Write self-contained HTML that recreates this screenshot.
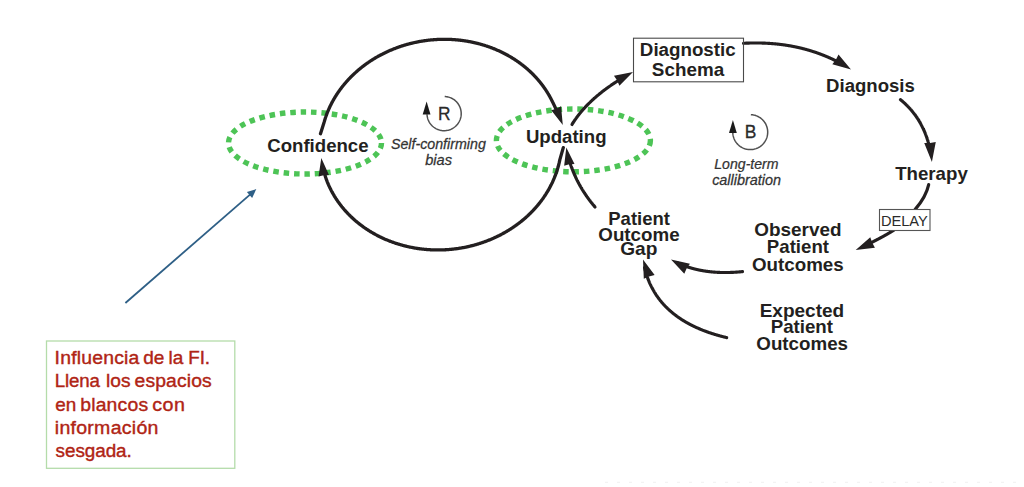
<!DOCTYPE html>
<html><head><meta charset="utf-8"><style>
html,body{margin:0;padding:0;background:#fff;width:1024px;height:487px;overflow:hidden}
svg{display:block;font-family:"Liberation Sans",sans-serif}
</style></head><body>
<svg width="1024" height="487" viewBox="0 0 1024 487">
<ellipse cx="305" cy="143" rx="76.5" ry="31" fill="none" stroke="#4dc456" stroke-width="5.4" stroke-dasharray="5.5 4.9"/>
<ellipse cx="573.4" cy="140.4" rx="77" ry="31.4" fill="none" stroke="#4dc456" stroke-width="5.4" stroke-dasharray="5.5 4.9"/>
<path d="M320.50,133.70 L324.19,121.91 L324.33,121.42 L324.48,120.93 L324.62,120.44 L324.77,119.96 L324.92,119.47 L325.08,118.98 L325.23,118.49 L325.39,118.01 L325.55,117.52 L325.72,117.04 L325.88,116.55 L326.05,116.07 L326.23,115.59 L326.40,115.10 L326.58,114.62 L326.76,114.14 L326.94,113.66 L327.12,113.18 L327.31,112.70 L327.50,112.22 L327.69,111.75 L327.89,111.27 L328.09,110.80 L328.29,110.32 L328.49,109.85 L328.70,109.37 L328.90,108.90 L329.12,108.43 L329.33,107.96 L329.54,107.49 L329.76,107.02 L329.98,106.55 L330.21,106.08 L330.43,105.61 L330.66,105.15 L330.89,104.68 L331.13,104.22 L331.36,103.76 L331.60,103.29 L331.84,102.83 L332.08,102.37 L332.33,101.91 L332.58,101.45 L332.83,101.00 L333.08,100.54 L333.34,100.08 L333.60,99.63 L333.86,99.18 L334.12,98.72 L334.38,98.27 L334.65,97.82 L334.92,97.37 L335.20,96.92 L335.47,96.48 L335.75,96.03 L336.03,95.59 L336.31,95.14 L336.59,94.70 L336.88,94.26 L337.17,93.82 L337.46,93.38 L337.76,92.94 L338.05,92.50 L338.35,92.07 L338.65,91.63 L338.96,91.20 L339.26,90.77 L339.57,90.34 L339.88,89.91 L340.19,89.48 L340.51,89.05 L340.83,88.63 L341.15,88.20 L341.47,87.78 L341.79,87.36 L342.12,86.94 L342.45,86.52 L342.78,86.10 L343.11,85.68 L343.45,85.27 L343.78,84.85 L344.12,84.44 L344.47,84.03 L344.81,83.62 L345.16,83.21 L345.50,82.80 L345.86,82.40 L346.21,81.99 L346.56,81.59 L346.92,81.19 L347.28,80.79 L347.64,80.39 L348.00,79.99 L348.37,79.60 L348.74,79.20 L349.11,78.81 L349.48,78.42 L349.85,78.03 L350.23,77.64 L350.61,77.25 L350.99,76.87 L351.37,76.48 L351.76,76.10 L352.14,75.72 L352.53,75.34 L352.92,74.96 L353.31,74.59 L353.71,74.21 L354.10,73.84 L354.50,73.47 L354.90,73.10 L355.30,72.73 L355.71,72.37 L356.11,72.00 L356.52,71.64 L356.93,71.28 L357.34,70.92 L357.76,70.56 L358.17,70.21 L358.59,69.85 L359.01,69.50 L359.43,69.15 L359.86,68.80 L360.28,68.45 L360.71,68.10 L361.14,67.76 L361.57,67.42 L362.00,67.08 L362.43,66.74 L362.87,66.40 L363.31,66.07 L363.75,65.73 L364.19,65.40 L364.63,65.07 L365.08,64.74 L365.52,64.42 L365.97,64.09 L366.42,63.77 L366.87,63.45 L367.33,63.13 L367.78,62.81 L368.24,62.50 L368.69,62.18 L369.15,61.87 L369.62,61.56 L370.08,61.25 L370.54,60.95 L371.01,60.64 L371.48,60.34 L371.95,60.04 L372.42,59.74 L372.89,59.45 L373.37,59.15 L373.84,58.86 L374.32,58.57 L374.80,58.28 L375.28,58.00 L375.76,57.71 L376.24,57.43 L376.73,57.15 L377.21,56.87 L377.70,56.59 L378.19,56.32 L378.68,56.04 L379.17,55.77 L379.67,55.51 L380.16,55.24 L380.66,54.97 L381.16,54.71 L381.65,54.45 L382.15,54.19 L382.66,53.94 L383.16,53.68 L383.66,53.43 L384.17,53.18 L384.68,52.93 L385.18,52.69 L385.69,52.44 L386.20,52.20 L386.72,51.96 L387.23,51.72 L387.74,51.49 L388.26,51.25 L388.78,51.02 L389.29,50.79 L389.81,50.57 L390.33,50.34 L390.85,50.12 L391.38,49.90 L391.90,49.68 L392.43,49.46 L392.95,49.25 L393.48,49.04 L394.01,48.83 L394.54,48.62 L395.07,48.41 L395.60,48.21 L396.13,48.01 L396.66,47.81 L397.20,47.61 L397.73,47.42 L398.27,47.23 L398.81,47.04 L399.34,46.85 L399.88,46.66 L400.42,46.48 L400.97,46.30 L401.51,46.12 L402.05,45.94 L402.59,45.77 L403.14,45.60 L403.68,45.43 L404.23,45.26 L404.78,45.09 L405.33,44.93 L405.87,44.77 L406.42,44.61 L406.97,44.46 L407.53,44.30 L408.08,44.15 L408.63,44.00 L409.18,43.85 L409.74,43.71 L410.29,43.57 L410.85,43.43 L411.41,43.29 L411.96,43.15 L412.52,43.02 L413.08,42.89 L413.64,42.76 L414.20,42.63 L414.76,42.51 L415.32,42.39 L415.88,42.27 L416.44,42.15 L417.00,42.03 L417.57,41.92 L418.13,41.81 L418.69,41.70 L419.26,41.60 L419.82,41.49 L420.39,41.39 L420.96,41.30 L421.52,41.20 L422.09,41.11 L422.66,41.01 L423.22,40.92 L423.79,40.84 L424.36,40.75 L424.93,40.67 L425.50,40.59 L426.07,40.51 L426.64,40.44 L427.21,40.37 L427.78,40.30 L428.35,40.23 L428.92,40.16 L429.49,40.10 L430.07,40.04 L430.64,39.98 L431.21,39.93 L431.78,39.87 L432.35,39.82 L432.93,39.77 L433.50,39.73 L434.07,39.68 L434.65,39.64 L435.22,39.60 L435.79,39.56 L436.37,39.53 L436.94,39.50 L437.52,39.47 L438.09,39.44 L438.66,39.42 L439.24,39.39 L439.81,39.37 L440.39,39.35 L440.96,39.34 L441.54,39.33 L442.11,39.32 L442.69,39.31 L443.26,39.30 L443.83,39.30 L444.41,39.30 L444.98,39.30 L445.56,39.30 L446.13,39.31 L446.70,39.32 L447.28,39.33 L447.85,39.34 L448.42,39.36 L449.00,39.38 L449.57,39.40 L450.14,39.42 L450.72,39.44 L451.29,39.47 L451.86,39.50 L452.43,39.53 L453.00,39.57 L453.58,39.61 L454.15,39.65 L454.72,39.69 L455.29,39.73 L455.86,39.78 L456.43,39.83 L457.00,39.88 L457.57,39.93 L458.14,39.99 L458.70,40.05 L459.27,40.11 L459.84,40.17 L460.41,40.24 L460.97,40.31 L461.54,40.38 L462.11,40.45 L462.67,40.53 L463.24,40.60 L463.80,40.68 L464.36,40.77 L464.93,40.85 L465.49,40.94 L466.05,41.03 L466.61,41.12 L467.17,41.21 L467.73,41.31 L468.29,41.41 L468.85,41.51 L469.41,41.61 L469.97,41.72 L470.53,41.83 L471.08,41.94 L471.64,42.05 L472.20,42.17 L472.75,42.28 L473.30,42.40 L473.86,42.53 L474.41,42.65 L474.96,42.78 L475.51,42.91 L476.06,43.04 L476.61,43.17 L477.16,43.31 L477.71,43.45 L478.25,43.59 L478.80,43.73 L479.34,43.88 L479.89,44.02 L480.43,44.17 L480.97,44.33 L481.52,44.48 L482.06,44.64 L482.60,44.80 L483.14,44.96 L483.67,45.12 L484.21,45.29 L484.75,45.45 L485.28,45.62 L485.81,45.80 L486.35,45.97 L486.88,46.15 L487.41,46.33 L487.94,46.51 L488.47,46.69 L489.00,46.88 L489.52,47.07 L490.05,47.26 L490.57,47.45 L491.09,47.64 L491.62,47.84 L492.14,48.04 L492.66,48.24 L493.18,48.45 L493.69,48.65 L494.21,48.86 L494.72,49.07 L495.24,49.28 L495.75,49.50 L496.26,49.71 L496.77,49.93 L497.28,50.15 L497.79,50.38 L498.29,50.60 L498.80,50.83 L499.30,51.06 L499.80,51.29 L500.31,51.52 L500.81,51.76 L501.30,52.00 L501.80,52.24 L502.30,52.48 L502.79,52.72 L503.28,52.97 L503.77,53.22 L504.26,53.47 L504.75,53.72 L505.24,53.98 L505.72,54.23 L506.21,54.49 L506.69,54.75 L507.17,55.01 L507.65,55.28 L508.13,55.55 L508.61,55.82 L509.08,56.09 L509.55,56.36 L510.03,56.63 L510.50,56.91 L510.96,57.19 L511.43,57.47 L511.90,57.75 L512.36,58.04 L512.82,58.33 L513.28,58.61 L513.74,58.91 L514.20,59.20 L514.66,59.49 L515.11,59.79 L515.56,60.09 L516.01,60.39 L516.46,60.69 L516.91,61.00 L517.36,61.30 L517.80,61.61 L518.24,61.92 L518.68,62.23 L519.12,62.54 L519.56,62.86 L519.99,63.18 L520.43,63.50 L520.86,63.82 L521.29,64.14 L521.71,64.47 L522.14,64.79 L522.56,65.12 L522.99,65.45 L523.41,65.78 L523.83,66.12 L524.24,66.45 L524.66,66.79 L525.07,67.13 L525.48,67.47 L525.89,67.81 L526.30,68.16 L526.70,68.50 L527.11,68.85 L527.51,69.20 L527.91,69.55 L528.30,69.91 L528.70,70.26 L529.09,70.62 L529.48,70.97 L529.87,71.33 L530.26,71.70 L530.64,72.06 L531.03,72.42 L531.41,72.79 L531.79,73.16 L532.17,73.53 L532.54,73.90 L532.91,74.27 L533.28,74.65 L533.65,75.02 L534.02,75.40 L534.38,75.78 L534.75,76.16 L535.11,76.54 L535.47,76.93 L535.82,77.31 L536.18,77.70 L536.53,78.09 L536.88,78.48 L537.22,78.87 L537.57,79.26 L537.91,79.66 L538.25,80.05 L538.59,80.45 L538.93,80.85 L539.26,81.25 L539.59,81.65 L539.92,82.05 L540.25,82.46 L540.58,82.86 L540.90,83.27 L541.22,83.68 L541.54,84.09 L541.85,84.50 L542.17,84.91 L542.48,85.33 L542.79,85.74 L543.10,86.16 L543.40,86.58 L543.70,87.00 L544.00,87.42 L544.30,87.84 L544.60,88.27 L544.89,88.69 L545.18,89.12 L545.47,89.54 L545.75,89.97 L546.04,90.40 L546.32,90.83 L546.60,91.27 L546.87,91.70 L547.15,92.13 L547.42,92.57 L547.69,93.01 L547.95,93.45 L548.22,93.88 L548.48,94.33 L548.74,94.77 L549.00,95.21 L549.25,95.65 L549.50,96.10 L549.75,96.55 L550.00,96.99 L550.24,97.44 L550.49,97.89 L550.72,98.34 L550.96,98.79 L551.20,99.25 L551.20,99.25 L551.39,99.63 L551.59,100.01 L551.79,100.40 L551.99,100.79 L552.19,101.18 L552.39,101.57 L552.58,101.97 L552.78,102.36 L552.98,102.76 L553.18,103.16 L553.37,103.56 L553.57,103.97 L553.77,104.37 L553.97,104.78 L554.16,105.19 L554.36,105.60 L554.56,106.01 L554.76,106.43 L554.95,106.84 L555.15,107.26 L555.35,107.68 L555.55,108.10 L555.74,108.53 L555.94,108.95 L556.14,109.38 L556.33,109.81 L556.53,110.24 L556.73,110.67 L556.92,111.11 L557.12,111.55 L557.32,111.98 L557.51,112.42 L557.71,112.87 L557.91,113.31 L558.10,113.76 L558.30,114.20 L558.50,114.65 L558.69,115.10 L558.89,115.56 L559.08,116.01 L559.28,116.47" fill="none" stroke="#231f20" stroke-width="3.3" stroke-linecap="round" stroke-linejoin="round"/><polygon points="562.80,125.00 551.27,110.21 556.35,108.78 561.03,106.33" fill="#231f20"/>
<path d="M563.30,147.60 L559.86,159.59 L559.76,160.11 L559.65,160.63 L559.54,161.14 L559.43,161.66 L559.32,162.18 L559.20,162.70 L559.08,163.22 L558.95,163.73 L558.83,164.25 L558.70,164.77 L558.57,165.28 L558.43,165.80 L558.29,166.31 L558.15,166.82 L558.01,167.34 L557.86,167.85 L557.71,168.36 L557.56,168.87 L557.40,169.38 L557.25,169.89 L557.08,170.40 L556.92,170.91 L556.75,171.42 L556.58,171.93 L556.41,172.44 L556.23,172.94 L556.06,173.45 L555.87,173.95 L555.69,174.46 L555.50,174.96 L555.31,175.46 L555.12,175.97 L554.92,176.47 L554.73,176.97 L554.52,177.47 L554.32,177.97 L554.11,178.46 L553.90,178.96 L553.69,179.46 L553.48,179.95 L553.26,180.45 L553.04,180.94 L552.81,181.43 L552.59,181.92 L552.36,182.42 L552.12,182.91 L551.89,183.39 L551.65,183.88 L551.41,184.37 L551.17,184.86 L550.92,185.34 L550.67,185.82 L550.42,186.31 L550.17,186.79 L549.91,187.27 L549.65,187.75 L549.39,188.23 L549.13,188.71 L548.86,189.18 L548.59,189.66 L548.32,190.13 L548.04,190.61 L547.76,191.08 L547.48,191.55 L547.20,192.02 L546.91,192.49 L546.62,192.95 L546.33,193.42 L546.04,193.89 L545.74,194.35 L545.44,194.81 L545.14,195.27 L544.84,195.73 L544.53,196.19 L544.22,196.65 L543.91,197.11 L543.59,197.56 L543.28,198.01 L542.96,198.47 L542.63,198.92 L542.31,199.37 L541.98,199.81 L541.65,200.26 L541.32,200.71 L540.98,201.15 L540.65,201.59 L540.31,202.03 L539.96,202.47 L539.62,202.91 L539.27,203.35 L538.92,203.78 L538.57,204.22 L538.22,204.65 L537.86,205.08 L537.50,205.51 L537.14,205.94 L536.77,206.37 L536.41,206.79 L536.04,207.21 L535.67,207.64 L535.29,208.06 L534.92,208.47 L534.54,208.89 L534.16,209.31 L533.78,209.72 L533.39,210.13 L533.00,210.54 L532.62,210.95 L532.22,211.36 L531.83,211.77 L531.43,212.17 L531.03,212.57 L530.63,212.97 L530.23,213.37 L529.82,213.77 L529.42,214.16 L529.01,214.56 L528.59,214.95 L528.18,215.34 L527.76,215.73 L527.35,216.12 L526.92,216.50 L526.50,216.88 L526.08,217.26 L525.65,217.64 L525.22,218.02 L524.79,218.40 L524.36,218.77 L523.92,219.14 L523.48,219.51 L523.04,219.88 L522.60,220.25 L522.16,220.61 L521.71,220.98 L521.26,221.34 L520.82,221.70 L520.36,222.05 L519.91,222.41 L519.45,222.76 L519.00,223.11 L518.54,223.46 L518.08,223.81 L517.61,224.16 L517.15,224.50 L516.68,224.84 L516.21,225.18 L515.74,225.52 L515.27,225.85 L514.79,226.19 L514.32,226.52 L513.84,226.85 L513.36,227.18 L512.88,227.50 L512.39,227.82 L511.91,228.15 L511.42,228.46 L510.93,228.78 L510.44,229.10 L509.95,229.41 L509.46,229.72 L508.96,230.03 L508.46,230.33 L507.96,230.64 L507.46,230.94 L506.96,231.24 L506.46,231.54 L505.95,231.83 L505.44,232.13 L504.94,232.42 L504.42,232.71 L503.91,233.00 L503.40,233.28 L502.88,233.56 L502.37,233.84 L501.85,234.12 L501.33,234.40 L500.81,234.67 L500.29,234.94 L499.76,235.21 L499.24,235.48 L498.71,235.74 L498.18,236.01 L497.65,236.27 L497.12,236.52 L496.59,236.78 L496.05,237.03 L495.52,237.28 L494.98,237.53 L494.44,237.78 L493.90,238.02 L493.36,238.27 L492.82,238.50 L492.28,238.74 L491.73,238.98 L491.19,239.21 L490.64,239.44 L490.09,239.67 L489.54,239.89 L488.99,240.12 L488.44,240.34 L487.88,240.55 L487.33,240.77 L486.77,240.98 L486.22,241.19 L485.66,241.40 L485.10,241.61 L484.54,241.81 L483.98,242.01 L483.42,242.21 L482.86,242.41 L482.29,242.60 L481.73,242.80 L481.16,242.99 L480.59,243.17 L480.02,243.36 L479.46,243.54 L478.88,243.72 L478.31,243.89 L477.74,244.07 L477.17,244.24 L476.60,244.41 L476.02,244.58 L475.44,244.74 L474.87,244.90 L474.29,245.06 L473.71,245.22 L473.13,245.38 L472.55,245.53 L471.97,245.68 L471.39,245.82 L470.81,245.97 L470.23,246.11 L469.64,246.25 L469.06,246.39 L468.48,246.52 L467.89,246.65 L467.30,246.78 L466.72,246.91 L466.13,247.03 L465.54,247.16 L464.95,247.27 L464.36,247.39 L463.77,247.51 L463.18,247.62 L462.59,247.73 L462.00,247.83 L461.41,247.94 L460.82,248.04 L460.22,248.14 L459.63,248.23 L459.04,248.33 L458.44,248.42 L457.85,248.51 L457.25,248.59 L456.66,248.67 L456.06,248.75 L455.46,248.83 L454.87,248.91 L454.27,248.98 L453.67,249.05 L453.07,249.12 L452.48,249.18 L451.88,249.25 L451.28,249.31 L450.68,249.36 L450.08,249.42 L449.48,249.47 L448.88,249.52 L448.28,249.57 L447.68,249.61 L447.08,249.65 L446.48,249.69 L445.88,249.73 L445.28,249.76 L444.68,249.79 L444.08,249.82 L443.48,249.85 L442.88,249.87 L442.28,249.89 L441.68,249.91 L441.07,249.92 L440.47,249.94 L439.87,249.95 L439.27,249.95 L438.67,249.96 L438.07,249.96 L437.47,249.96 L436.87,249.96 L436.27,249.95 L435.67,249.95 L435.07,249.93 L434.47,249.92 L433.87,249.91 L433.27,249.89 L432.67,249.87 L432.07,249.84 L431.47,249.82 L430.87,249.79 L430.27,249.75 L429.67,249.72 L429.08,249.68 L428.48,249.64 L427.88,249.60 L427.28,249.56 L426.69,249.51 L426.09,249.46 L425.50,249.41 L424.90,249.35 L424.30,249.29 L423.71,249.23 L423.11,249.17 L422.52,249.10 L421.93,249.04 L421.33,248.97 L420.74,248.89 L420.15,248.82 L419.56,248.74 L418.97,248.66 L418.38,248.57 L417.79,248.49 L417.20,248.40 L416.61,248.31 L416.02,248.21 L415.43,248.11 L414.85,248.02 L414.26,247.91 L413.68,247.81 L413.09,247.70 L412.51,247.59 L411.92,247.48 L411.34,247.37 L410.76,247.25 L410.18,247.13 L409.60,247.01 L409.02,246.88 L408.44,246.75 L407.86,246.62 L407.28,246.49 L406.71,246.36 L406.13,246.22 L405.56,246.08 L404.98,245.94 L404.41,245.79 L403.84,245.64 L403.27,245.49 L402.70,245.34 L402.13,245.19 L401.56,245.03 L400.99,244.87 L400.43,244.71 L399.86,244.54 L399.30,244.37 L398.73,244.20 L398.17,244.03 L397.61,243.86 L397.05,243.68 L396.49,243.50 L395.94,243.32 L395.38,243.13 L394.82,242.94 L394.27,242.75 L393.72,242.56 L393.16,242.37 L392.61,242.17 L392.06,241.97 L391.52,241.77 L390.97,241.56 L390.42,241.36 L389.88,241.15 L389.33,240.94 L388.79,240.72 L388.25,240.51 L387.71,240.29 L387.17,240.07 L386.64,239.84 L386.10,239.62 L385.57,239.39 L385.04,239.16 L384.50,238.93 L383.98,238.69 L383.45,238.45 L382.92,238.21 L382.39,237.97 L381.87,237.73 L381.35,237.48 L380.83,237.23 L380.31,236.98 L379.79,236.72 L379.27,236.47 L378.76,236.21 L378.24,235.95 L377.73,235.69 L377.22,235.42 L376.71,235.15 L376.21,234.88 L375.70,234.61 L375.20,234.34 L374.69,234.06 L374.19,233.78 L373.69,233.50 L373.20,233.22 L372.70,232.93 L372.21,232.65 L371.72,232.36 L371.23,232.06 L370.74,231.77 L370.25,231.47 L369.77,231.18 L369.28,230.88 L368.80,230.57 L368.32,230.27 L367.84,229.96 L367.37,229.65 L366.89,229.34 L366.42,229.03 L365.95,228.71 L365.48,228.39 L365.01,228.08 L364.55,227.75 L364.08,227.43 L363.62,227.10 L363.16,226.78 L362.71,226.45 L362.25,226.11 L361.80,225.78 L361.35,225.44 L360.90,225.11 L360.45,224.77 L360.00,224.42 L359.56,224.08 L359.12,223.74 L358.68,223.39 L358.24,223.04 L357.81,222.69 L357.37,222.33 L356.94,221.98 L356.51,221.62 L356.09,221.26 L355.66,220.90 L355.24,220.53 L354.82,220.17 L354.40,219.80 L353.99,219.43 L353.57,219.06 L353.16,218.69 L352.75,218.32 L352.34,217.94 L351.94,217.56 L351.53,217.18 L351.13,216.80 L350.73,216.42 L350.34,216.03 L349.94,215.64 L349.55,215.25 L349.16,214.86 L348.78,214.47 L348.39,214.08 L348.01,213.68 L347.63,213.28 L347.25,212.88 L346.87,212.48 L346.50,212.08 L346.13,211.68 L345.76,211.27 L345.39,210.86 L345.03,210.45 L344.67,210.04 L344.31,209.63 L343.95,209.22 L343.60,208.80 L343.25,208.38 L342.90,207.96 L342.55,207.54 L342.21,207.12 L341.86,206.70 L341.52,206.27 L341.19,205.85 L340.85,205.42 L340.52,204.99 L340.19,204.56 L339.86,204.12 L339.54,203.69 L339.22,203.25 L338.90,202.82 L338.58,202.38 L338.27,201.94 L337.95,201.50 L337.65,201.05 L337.34,200.61 L337.03,200.16 L336.73,199.72 L336.43,199.27 L336.14,198.82 L335.84,198.37 L335.55,197.91 L335.26,197.46 L334.98,197.01 L334.70,196.55 L334.41,196.09 L334.14,195.63 L333.86,195.17 L333.59,194.71 L333.32,194.25 L333.05,193.78 L332.79,193.32 L332.53,192.85 L332.27,192.38 L332.01,191.92 L331.76,191.45 L331.50,190.97 L331.26,190.50 L331.01,190.03 L330.77,189.55 L330.53,189.08 L330.29,188.60 L330.06,188.12 L329.82,187.64 L329.59,187.16 L329.37,186.68 L329.15,186.20 L328.92,185.72 L328.71,185.23 L328.71,185.23 L328.53,184.84 L328.36,184.44 L328.18,184.04 L328.01,183.64 L327.84,183.24 L327.67,182.83 L327.51,182.42 L327.34,182.01 L327.18,181.59 L327.02,181.18 L326.86,180.76 L326.71,180.34 L326.55,179.91 L326.40,179.49 L326.24,179.06 L326.09,178.63 L325.95,178.20 L325.80,177.76 L325.65,177.32 L325.51,176.89 L325.37,176.44 L325.23,176.00 L325.09,175.55 L324.96,175.10 L324.82,174.65 L324.69,174.20 L324.56,173.74 L324.43,173.28 L324.30,172.82 L324.18,172.36 L324.05,171.89 L323.93,171.42 L323.81,170.95 L323.69,170.48 L323.58,170.01 L323.46,169.53 L323.35,169.05 L323.24,168.57 L323.13,168.08 L323.02,167.60 L322.91,167.11" fill="none" stroke="#231f20" stroke-width="3.3" stroke-linecap="round" stroke-linejoin="round"/><polygon points="321.30,157.90 328.97,175.01 323.70,175.19 318.57,176.45" fill="#231f20"/>
<path d="M572.00,124.50 L572.09,124.35 L572.18,124.20 L572.27,124.06 L572.36,123.91 L572.46,123.76 L572.55,123.61 L572.64,123.47 L572.73,123.32 L572.82,123.17 L572.92,123.03 L573.01,122.88 L573.11,122.73 L573.20,122.58 L573.29,122.44 L573.39,122.29 L573.48,122.14 L573.58,122.00 L573.67,121.85 L573.77,121.71 L573.87,121.56 L573.96,121.41 L574.06,121.27 L574.16,121.12 L574.26,120.97 L574.35,120.83 L574.45,120.68 L574.55,120.54 L574.65,120.39 L574.75,120.25 L574.85,120.10 L574.95,119.96 L575.05,119.81 L575.15,119.66 L575.25,119.52 L575.35,119.37 L575.45,119.23 L575.55,119.08 L575.66,118.94 L575.76,118.80 L575.86,118.65 L575.96,118.51 L576.07,118.36 L576.17,118.22 L576.27,118.07 L576.38,117.93 L576.48,117.78 L576.59,117.64 L576.69,117.50 L576.80,117.35 L576.90,117.21 L577.01,117.06 L577.12,116.92 L577.22,116.78 L577.33,116.63 L577.44,116.49 L577.55,116.35 L577.65,116.20 L577.76,116.06 L577.87,115.92 L577.98,115.77 L578.09,115.63 L578.20,115.49 L578.31,115.35 L578.42,115.20 L578.53,115.06 L578.64,114.92 L578.75,114.78 L578.86,114.63 L578.97,114.49 L579.09,114.35 L579.20,114.21 L579.31,114.07 L579.42,113.92 L579.54,113.78 L579.65,113.64 L579.76,113.50 L579.88,113.36 L579.99,113.21 L580.11,113.07 L580.22,112.93 L580.34,112.79 L580.45,112.65 L580.57,112.51 L580.69,112.37 L580.80,112.23 L580.92,112.09 L581.04,111.94 L581.16,111.80 L581.27,111.66 L581.39,111.52 L581.51,111.38 L581.63,111.24 L581.75,111.10 L581.87,110.96 L581.99,110.82 L582.11,110.68 L582.23,110.54 L582.35,110.40 L582.47,110.26 L582.59,110.12 L582.71,109.98 L582.84,109.84 L582.96,109.70 L583.08,109.56 L583.20,109.42 L583.33,109.28 L583.45,109.15 L583.58,109.01 L583.70,108.87 L583.82,108.73 L583.95,108.59 L584.08,108.45 L584.20,108.31 L584.33,108.17 L584.45,108.03 L584.58,107.90 L584.71,107.76 L584.83,107.62 L584.96,107.48 L585.09,107.34 L585.22,107.21 L585.34,107.07 L585.47,106.93 L585.60,106.79 L585.73,106.65 L585.86,106.52 L585.99,106.38 L586.12,106.24 L586.25,106.10 L586.38,105.97 L586.51,105.83 L586.65,105.69 L586.78,105.56 L586.91,105.42 L587.04,105.28 L587.18,105.14 L587.31,105.01 L587.44,104.87 L587.58,104.73 L587.71,104.60 L587.84,104.46 L587.98,104.33 L588.11,104.19 L588.25,104.05 L588.38,103.92 L588.52,103.78 L588.66,103.65 L588.79,103.51 L588.93,103.37 L589.07,103.24 L589.20,103.10 L589.34,102.97 L589.48,102.83 L589.62,102.70 L589.76,102.56 L589.90,102.43 L590.04,102.29 L590.18,102.16 L590.32,102.02 L590.46,101.89 L590.60,101.75 L590.74,101.62 L590.88,101.48 L591.02,101.35 L591.16,101.21 L591.30,101.08 L591.45,100.94 L591.59,100.81 L591.73,100.68 L591.88,100.54 L592.02,100.41 L592.16,100.27 L592.31,100.14 L592.45,100.01 L592.60,99.87 L592.74,99.74 L592.89,99.61 L593.04,99.47 L593.18,99.34 L593.33,99.21 L593.48,99.07 L593.62,98.94 L593.77,98.81 L593.92,98.67 L594.07,98.54 L594.21,98.41 L594.36,98.28 L594.51,98.14 L594.66,98.01 L594.81,97.88 L594.96,97.75 L595.11,97.61 L595.26,97.48 L595.41,97.35 L595.57,97.22 L595.72,97.09 L595.87,96.95 L596.02,96.82 L596.17,96.69 L596.33,96.56 L596.48,96.43 L596.63,96.30 L596.79,96.16 L596.94,96.03 L597.10,95.90 L597.25,95.77 L597.41,95.64 L597.56,95.51 L597.72,95.38 L597.87,95.25 L598.03,95.12 L598.19,94.99 L598.34,94.86 L598.50,94.73 L598.66,94.60 L598.82,94.47 L598.97,94.33 L599.13,94.20 L599.29,94.07 L599.45,93.94 L599.61,93.81 L599.77,93.69 L599.93,93.56 L600.09,93.43 L600.25,93.30 L600.41,93.17 L600.57,93.04 L600.73,92.91 L600.90,92.78 L601.06,92.65 L601.22,92.52 L601.38,92.39 L601.55,92.26 L601.71,92.13 L601.88,92.01 L602.04,91.88 L602.20,91.75 L602.37,91.62 L602.53,91.49 L602.70,91.36 L602.87,91.23 L603.03,91.11 L603.20,90.98 L603.36,90.85 L603.53,90.72 L603.70,90.59 L603.87,90.47 L604.03,90.34 L604.20,90.21 L604.37,90.08 L604.54,89.96 L604.71,89.83 L604.88,89.70 L605.05,89.58 L605.22,89.45 L605.39,89.32 L605.56,89.19 L605.73,89.07 L605.90,88.94 L606.07,88.81 L606.25,88.69 L606.42,88.56 L606.59,88.43 L606.76,88.31 L606.94,88.18 L607.11,88.06 L607.29,87.93 L607.46,87.80 L607.63,87.68 L607.81,87.55 L607.98,87.43 L608.16,87.30 L608.34,87.17 L608.51,87.05 L608.69,86.92 L608.86,86.80 L609.04,86.67 L609.22,86.55 L609.40,86.42 L609.57,86.30 L609.75,86.17 L609.93,86.05 L610.11,85.92 L610.29,85.80 L610.47,85.67 L610.65,85.55 L610.83,85.42 L611.01,85.30 L611.19,85.18 L611.37,85.05 L611.55,84.93 L611.74,84.80 L611.92,84.68 L612.10,84.56 L612.28,84.43 L612.47,84.31 L612.65,84.18 L612.83,84.06 L613.02,83.94 L613.20,83.81 L613.39,83.69 L613.57,83.57 L613.76,83.44 L613.94,83.32 L614.13,83.20 L614.31,83.07 L614.50,82.95 L614.69,82.83 L614.87,82.71 L615.06,82.58 L615.25,82.46 L615.44,82.34 L615.63,82.22 L615.81,82.09 L616.00,81.97 L616.19,81.85 L616.38,81.73 L616.57,81.61 L616.76,81.48 L616.95,81.36 L617.14,81.24 L617.33,81.12 L617.53,81.00 L617.72,80.88 L617.91,80.75 L618.10,80.63 L618.30,80.51 L618.49,80.39 L618.68,80.27 L618.88,80.15 L619.07,80.03 L619.26,79.91 L619.46,79.79 L619.65,79.67 L619.85,79.55 L620.04,79.43 L620.24,79.30 L620.44,79.18 L620.63,79.06 L620.83,78.94 L621.03,78.82 L621.22,78.70 L621.42,78.58 L621.62,78.46 L621.82,78.34 L622.02,78.22 L622.22,78.11 L622.42,77.99 L622.62,77.87 L622.82,77.75 L623.02,77.63 L623.22,77.51 L623.42,77.39 L623.62,77.27 L623.82,77.15 L624.02,77.03 L624.22,76.91 L624.43,76.80 L624.63,76.68 L624.83,76.56 L625.04,76.44 L625.24,76.32 L625.44,76.20 L625.65,76.09 L625.85,75.97" fill="none" stroke="#231f20" stroke-width="3.15" stroke-linecap="round"/><polygon points="633.00,72.00 619.40,85.80 617.18,80.46 613.97,75.66" fill="#231f20"/>
<path d="M743.50,43.30 L743.81,43.28 L744.12,43.27 L744.42,43.25 L744.73,43.24 L745.04,43.22 L745.35,43.21 L745.65,43.19 L745.96,43.18 L746.27,43.17 L746.57,43.16 L746.88,43.14 L747.19,43.13 L747.49,43.12 L747.80,43.11 L748.10,43.10 L748.41,43.09 L748.71,43.08 L749.02,43.07 L749.32,43.06 L749.63,43.05 L749.93,43.04 L750.23,43.04 L750.54,43.03 L750.84,43.02 L751.15,43.01 L751.45,43.01 L751.75,43.00 L752.06,43.00 L752.36,42.99 L752.66,42.99 L752.96,42.98 L753.26,42.98 L753.57,42.98 L753.87,42.98 L754.17,42.97 L754.47,42.97 L754.77,42.97 L755.07,42.97 L755.37,42.97 L755.68,42.97 L755.98,42.97 L756.28,42.97 L756.58,42.97 L756.88,42.97 L757.18,42.97 L757.47,42.97 L757.77,42.98 L758.07,42.98 L758.37,42.98 L758.67,42.99 L758.97,42.99 L759.27,43.00 L759.56,43.00 L759.86,43.01 L760.16,43.01 L760.46,43.02 L760.76,43.02 L761.05,43.03 L761.35,43.04 L761.65,43.05 L761.94,43.06 L762.24,43.06 L762.53,43.07 L762.83,43.08 L763.13,43.09 L763.42,43.10 L763.72,43.11 L764.01,43.12 L764.31,43.14 L764.60,43.15 L764.90,43.16 L765.19,43.17 L765.48,43.19 L765.78,43.20 L766.07,43.21 L766.37,43.23 L766.66,43.24 L766.95,43.26 L767.25,43.28 L767.54,43.29 L767.83,43.31 L768.12,43.32 L768.42,43.34 L768.71,43.36 L769.00,43.38 L769.29,43.40 L769.58,43.42 L769.87,43.43 L770.16,43.45 L770.46,43.48 L770.75,43.50 L771.04,43.52 L771.33,43.54 L771.62,43.56 L771.91,43.58 L772.20,43.61 L772.49,43.63 L772.78,43.65 L773.06,43.68 L773.35,43.70 L773.64,43.72 L773.93,43.75 L774.22,43.78 L774.51,43.80 L774.80,43.83 L775.08,43.85 L775.37,43.88 L775.66,43.91 L775.94,43.94 L776.23,43.97 L776.52,43.99 L776.81,44.02 L777.09,44.05 L777.38,44.08 L777.66,44.11 L777.95,44.15 L778.23,44.18 L778.52,44.21 L778.81,44.24 L779.09,44.27 L779.38,44.31 L779.66,44.34 L779.94,44.37 L780.23,44.41 L780.51,44.44 L780.80,44.48 L781.08,44.51 L781.36,44.55 L781.65,44.58 L781.93,44.62 L782.21,44.66 L782.50,44.70 L782.78,44.73 L783.06,44.77 L783.34,44.81 L783.62,44.85 L783.91,44.89 L784.19,44.93 L784.47,44.97 L784.75,45.01 L785.03,45.05 L785.31,45.09 L785.59,45.13 L785.87,45.18 L786.15,45.22 L786.43,45.26 L786.71,45.31 L786.99,45.35 L787.27,45.40 L787.55,45.44 L787.83,45.49 L788.11,45.53 L788.39,45.58 L788.66,45.62 L788.94,45.67 L789.22,45.72 L789.50,45.77 L789.78,45.81 L790.05,45.86 L790.33,45.91 L790.61,45.96 L790.88,46.01 L791.16,46.06 L791.44,46.11 L791.71,46.16 L791.99,46.21 L792.27,46.27 L792.54,46.32 L792.82,46.37 L793.09,46.42 L793.37,46.48 L793.64,46.53 L793.92,46.59 L794.19,46.64 L794.47,46.70 L794.74,46.75 L795.01,46.81 L795.29,46.86 L795.56,46.92 L795.83,46.98 L796.11,47.04 L796.38,47.09 L796.65,47.15 L796.93,47.21 L797.20,47.27 L797.47,47.33 L797.74,47.39 L798.01,47.45 L798.29,47.51 L798.56,47.57 L798.83,47.63 L799.10,47.70 L799.37,47.76 L799.64,47.82 L799.91,47.88 L800.18,47.95 L800.45,48.01 L800.72,48.08 L800.99,48.14 L801.26,48.21 L801.53,48.27 L801.80,48.34 L802.07,48.41 L802.34,48.47 L802.60,48.54 L802.87,48.61 L803.14,48.68 L803.41,48.75 L803.68,48.81 L803.94,48.88 L804.21,48.95 L804.48,49.02 L804.74,49.10 L805.01,49.17 L805.28,49.24 L805.54,49.31 L805.81,49.38 L806.08,49.46 L806.34,49.53 L806.61,49.60 L806.87,49.68 L807.14,49.75 L807.40,49.83 L807.67,49.90 L807.93,49.98 L808.20,50.05 L808.46,50.13 L808.72,50.21 L808.99,50.28 L809.25,50.36 L809.52,50.44 L809.78,50.52 L810.04,50.60 L810.30,50.68 L810.57,50.76 L810.83,50.84 L811.09,50.92 L811.35,51.00 L811.62,51.08 L811.88,51.16 L812.14,51.24 L812.40,51.33 L812.66,51.41 L812.92,51.49 L813.18,51.58 L813.44,51.66 L813.70,51.75 L813.96,51.83 L814.22,51.92 L814.48,52.00 L814.74,52.09 L815.00,52.18 L815.26,52.26 L815.52,52.35 L815.78,52.44 L816.04,52.53 L816.29,52.62 L816.55,52.70 L816.81,52.79 L817.07,52.88 L817.33,52.97 L817.58,53.07 L817.84,53.16 L818.10,53.25 L818.35,53.34 L818.61,53.43 L818.87,53.53 L819.12,53.62 L819.38,53.71 L819.64,53.81 L819.89,53.90 L820.15,54.00 L820.40,54.09 L820.66,54.19 L820.91,54.28 L821.17,54.38 L821.42,54.48 L821.67,54.58 L821.93,54.67 L822.18,54.77 L822.44,54.87 L822.69,54.97 L822.94,55.07 L823.20,55.17 L823.45,55.27 L823.70,55.37 L823.95,55.47 L824.21,55.57 L824.46,55.67 L824.71,55.78 L824.96,55.88 L825.21,55.98 L825.46,56.09 L825.72,56.19 L825.97,56.30 L826.22,56.40 L826.47,56.51 L826.72,56.61 L826.97,56.72 L827.22,56.82 L827.47,56.93 L827.72,57.04 L827.97,57.15 L828.22,57.25 L828.47,57.36 L828.71,57.47 L828.96,57.58 L829.21,57.69 L829.46,57.80 L829.71,57.91 L829.96,58.02 L830.20,58.13 L830.45,58.25 L830.70,58.36 L830.94,58.47 L831.19,58.58 L831.44,58.70 L831.68,58.81 L831.93,58.93 L832.18,59.04 L832.42,59.15 L832.67,59.27 L832.91,59.39 L833.16,59.50 L833.40,59.62 L833.65,59.74 L833.89,59.85 L834.14,59.97 L834.38,60.09 L834.63,60.21 L834.87,60.33 L835.11,60.45 L835.36,60.57 L835.60,60.69 L835.84,60.81 L836.09,60.93 L836.33,61.05 L836.57,61.17 L836.81,61.30 L837.06,61.42 L837.30,61.54 L837.54,61.67 L837.78,61.79 L838.02,61.92 L838.26,62.04 L838.51,62.17 L838.75,62.29 L838.99,62.42 L839.23,62.55 L839.47,62.67 L839.71,62.80 L839.95,62.93 L840.19,63.06 L840.43,63.18 L840.67,63.31 L840.91,63.44 L841.14,63.57 L841.38,63.70 L841.62,63.83 L841.86,63.97 L842.10,64.10 L842.34,64.23 L842.57,64.36 L842.81,64.49 L843.05,64.63 L843.28,64.76 L843.52,64.89 L843.76,65.03 L844.00,65.16" fill="none" stroke="#231f20" stroke-width="3.15" stroke-linecap="round"/><polygon points="851.00,69.40 832.32,64.28 835.88,59.74 838.51,54.59" fill="#231f20"/>
<path d="M900.40,99.60 L900.54,99.71 L900.68,99.83 L900.81,99.94 L900.95,100.05 L901.09,100.16 L901.22,100.28 L901.36,100.39 L901.50,100.51 L901.63,100.62 L901.77,100.73 L901.90,100.85 L902.04,100.96 L902.17,101.08 L902.31,101.19 L902.44,101.31 L902.58,101.42 L902.71,101.54 L902.84,101.66 L902.97,101.77 L903.11,101.89 L903.24,102.01 L903.37,102.12 L903.50,102.24 L903.63,102.36 L903.77,102.48 L903.90,102.59 L904.03,102.71 L904.16,102.83 L904.29,102.95 L904.42,103.07 L904.55,103.19 L904.67,103.31 L904.80,103.42 L904.93,103.54 L905.06,103.66 L905.19,103.78 L905.31,103.90 L905.44,104.03 L905.57,104.15 L905.70,104.27 L905.82,104.39 L905.95,104.51 L906.07,104.63 L906.20,104.75 L906.32,104.88 L906.45,105.00 L906.57,105.12 L906.70,105.24 L906.82,105.37 L906.95,105.49 L907.07,105.61 L907.19,105.74 L907.31,105.86 L907.44,105.98 L907.56,106.11 L907.68,106.23 L907.80,106.36 L907.92,106.48 L908.04,106.61 L908.16,106.73 L908.29,106.86 L908.41,106.98 L908.52,107.11 L908.64,107.24 L908.76,107.36 L908.88,107.49 L909.00,107.62 L909.12,107.74 L909.24,107.87 L909.35,108.00 L909.47,108.13 L909.59,108.25 L909.71,108.38 L909.82,108.51 L909.94,108.64 L910.05,108.77 L910.17,108.90 L910.29,109.03 L910.40,109.16 L910.51,109.29 L910.63,109.42 L910.74,109.55 L910.86,109.68 L910.97,109.81 L911.08,109.94 L911.20,110.07 L911.31,110.20 L911.42,110.33 L911.53,110.46 L911.65,110.60 L911.76,110.73 L911.87,110.86 L911.98,110.99 L912.09,111.13 L912.20,111.26 L912.31,111.39 L912.42,111.53 L912.53,111.66 L912.64,111.79 L912.75,111.93 L912.85,112.06 L912.96,112.20 L913.07,112.33 L913.18,112.47 L913.29,112.60 L913.39,112.74 L913.50,112.87 L913.60,113.01 L913.71,113.14 L913.82,113.28 L913.92,113.42 L914.03,113.55 L914.13,113.69 L914.24,113.83 L914.34,113.97 L914.44,114.10 L914.55,114.24 L914.65,114.38 L914.76,114.52 L914.86,114.66 L914.96,114.80 L915.06,114.93 L915.16,115.07 L915.27,115.21 L915.37,115.35 L915.47,115.49 L915.57,115.63 L915.67,115.77 L915.77,115.91 L915.87,116.05 L915.97,116.20 L916.07,116.34 L916.17,116.48 L916.27,116.62 L916.36,116.76 L916.46,116.90 L916.56,117.05 L916.66,117.19 L916.75,117.33 L916.85,117.47 L916.95,117.62 L917.04,117.76 L917.14,117.90 L917.23,118.05 L917.33,118.19 L917.43,118.34 L917.52,118.48 L917.61,118.63 L917.71,118.77 L917.80,118.92 L917.90,119.06 L917.99,119.21 L918.08,119.35 L918.17,119.50 L918.27,119.64 L918.36,119.79 L918.45,119.94 L918.54,120.08 L918.63,120.23 L918.72,120.38 L918.81,120.53 L918.91,120.67 L919.00,120.82 L919.08,120.97 L919.17,121.12 L919.26,121.27 L919.35,121.42 L919.44,121.57 L919.53,121.71 L919.62,121.86 L919.70,122.01 L919.79,122.16 L919.88,122.31 L919.97,122.46 L920.05,122.62 L920.14,122.77 L920.22,122.92 L920.31,123.07 L920.39,123.22 L920.48,123.37 L920.56,123.52 L920.65,123.68 L920.73,123.83 L920.82,123.98 L920.90,124.13 L920.98,124.29 L921.06,124.44 L921.15,124.59 L921.23,124.75 L921.31,124.90 L921.39,125.06 L921.47,125.21 L921.56,125.36 L921.64,125.52 L921.72,125.67 L921.80,125.83 L921.88,125.99 L921.96,126.14 L922.04,126.30 L922.11,126.45 L922.19,126.61 L922.27,126.77 L922.35,126.92 L922.43,127.08 L922.50,127.24 L922.58,127.39 L922.66,127.55 L922.74,127.71 L922.81,127.87 L922.89,128.03 L922.96,128.19 L923.04,128.34 L923.11,128.50 L923.19,128.66 L923.26,128.82 L923.34,128.98 L923.41,129.14 L923.48,129.30 L923.56,129.46 L923.63,129.62 L923.70,129.78 L923.78,129.94 L923.85,130.11 L923.92,130.27 L923.99,130.43 L924.06,130.59 L924.13,130.75 L924.20,130.91 L924.27,131.08 L924.34,131.24 L924.41,131.40 L924.48,131.57 L924.55,131.73 L924.62,131.89 L924.69,132.06 L924.76,132.22 L924.83,132.38 L924.89,132.55 L924.96,132.71 L925.03,132.88 L925.09,133.04 L925.16,133.21 L925.23,133.38 L925.29,133.54 L925.36,133.71 L925.42,133.87 L925.49,134.04 L925.55,134.21 L925.62,134.37 L925.68,134.54 L925.75,134.71 L925.81,134.88 L925.87,135.04 L925.94,135.21 L926.00,135.38 L926.06,135.55 L926.12,135.72 L926.18,135.89 L926.25,136.05 L926.31,136.22 L926.37,136.39 L926.43,136.56 L926.49,136.73 L926.55,136.90 L926.61,137.07 L926.67,137.24 L926.73,137.42 L926.78,137.59 L926.84,137.76 L926.90,137.93 L926.96,138.10 L927.02,138.27 L927.07,138.45 L927.13,138.62 L927.19,138.79 L927.24,138.96 L927.30,139.14 L927.36,139.31 L927.41,139.48 L927.47,139.66 L927.52,139.83 L927.57,140.00 L927.63,140.18 L927.68,140.35 L927.74,140.53 L927.79,140.70 L927.84,140.88 L927.90,141.05 L927.95,141.23 L928.00,141.41 L928.05,141.58 L928.10,141.76 L928.16,141.94 L928.21,142.11 L928.26,142.29 L928.31,142.47 L928.36,142.64 L928.41,142.82 L928.46,143.00 L928.51,143.18 L928.55,143.36 L928.60,143.53 L928.65,143.71 L928.70,143.89 L928.75,144.07 L928.79,144.25 L928.84,144.43 L928.89,144.61 L928.93,144.79 L928.98,144.97 L929.03,145.15 L929.07,145.33 L929.12,145.51 L929.16,145.69 L929.21,145.88 L929.25,146.06 L929.30,146.24 L929.34,146.42 L929.38,146.60 L929.43,146.79 L929.47,146.97 L929.51,147.15 L929.55,147.33 L929.60,147.52 L929.64,147.70 L929.68,147.89 L929.72,148.07 L929.76,148.25 L929.80,148.44 L929.84,148.62 L929.88,148.81 L929.92,148.99 L929.96,149.18 L930.00,149.36 L930.04,149.55 L930.08,149.74 L930.12,149.92 L930.15,150.11 L930.19,150.30 L930.23,150.48 L930.27,150.67 L930.30,150.86 L930.34,151.04 L930.37,151.23 L930.41,151.42 L930.45,151.61 L930.48,151.80 L930.52,151.99 L930.55,152.17 L930.58,152.36 L930.62,152.55 L930.65,152.74 L930.69,152.93 L930.72,153.12 L930.75,153.31 L930.78,153.50 L930.82,153.69 L930.85,153.88" fill="none" stroke="#231f20" stroke-width="3.15" stroke-linecap="round"/><polygon points="931.90,161.90 924.23,143.06 930.06,143.07 935.78,141.93" fill="#231f20"/>
<path d="M928.7,184.6 Q926,197 915,209.6" fill="none" stroke="#231f20" stroke-width="3.15" stroke-linecap="round"/>
<path d="M893.60,230.30 L893.52,230.35 L893.44,230.40 L893.37,230.45 L893.29,230.49 L893.21,230.54 L893.13,230.59 L893.05,230.64 L892.97,230.69 L892.89,230.74 L892.81,230.79 L892.73,230.83 L892.66,230.88 L892.58,230.93 L892.50,230.98 L892.42,231.03 L892.34,231.08 L892.26,231.13 L892.18,231.18 L892.10,231.22 L892.02,231.27 L891.94,231.32 L891.86,231.37 L891.78,231.42 L891.70,231.47 L891.62,231.52 L891.54,231.57 L891.46,231.61 L891.38,231.66 L891.30,231.71 L891.22,231.76 L891.14,231.81 L891.05,231.86 L890.97,231.91 L890.89,231.95 L890.81,232.00 L890.73,232.05 L890.65,232.10 L890.57,232.15 L890.49,232.20 L890.40,232.25 L890.32,232.30 L890.24,232.34 L890.16,232.39 L890.08,232.44 L890.00,232.49 L889.91,232.54 L889.83,232.59 L889.75,232.64 L889.67,232.69 L889.59,232.73 L889.50,232.78 L889.42,232.83 L889.34,232.88 L889.25,232.93 L889.17,232.98 L889.09,233.03 L889.01,233.08 L888.92,233.12 L888.84,233.17 L888.76,233.22 L888.67,233.27 L888.59,233.32 L888.51,233.37 L888.42,233.42 L888.34,233.47 L888.26,233.51 L888.17,233.56 L888.09,233.61 L888.00,233.66 L887.92,233.71 L887.84,233.76 L887.75,233.81 L887.67,233.86 L887.58,233.90 L887.50,233.95 L887.41,234.00 L887.33,234.05 L887.24,234.10 L887.16,234.15 L887.08,234.20 L886.99,234.25 L886.90,234.30 L886.82,234.34 L886.73,234.39 L886.65,234.44 L886.56,234.49 L886.48,234.54 L886.39,234.59 L886.31,234.64 L886.22,234.69 L886.14,234.73 L886.05,234.78 L885.96,234.83 L885.88,234.88 L885.79,234.93 L885.71,234.98 L885.62,235.03 L885.53,235.08 L885.45,235.13 L885.36,235.17 L885.27,235.22 L885.19,235.27 L885.10,235.32 L885.01,235.37 L884.93,235.42 L884.84,235.47 L884.75,235.52 L884.66,235.57 L884.58,235.61 L884.49,235.66 L884.40,235.71 L884.31,235.76 L884.23,235.81 L884.14,235.86 L884.05,235.91 L883.96,235.96 L883.88,236.01 L883.79,236.05 L883.70,236.10 L883.61,236.15 L883.52,236.20 L883.43,236.25 L883.35,236.30 L883.26,236.35 L883.17,236.40 L883.08,236.45 L882.99,236.50 L882.90,236.54 L882.81,236.59 L882.72,236.64 L882.63,236.69 L882.54,236.74 L882.46,236.79 L882.37,236.84 L882.28,236.89 L882.19,236.94 L882.10,236.98 L882.01,237.03 L881.92,237.08 L881.83,237.13 L881.74,237.18 L881.65,237.23 L881.56,237.28 L881.47,237.33 L881.38,237.38 L881.29,237.43 L881.20,237.47 L881.11,237.52 L881.01,237.57 L880.92,237.62 L880.83,237.67 L880.74,237.72 L880.65,237.77 L880.56,237.82 L880.47,237.87 L880.38,237.92 L880.29,237.96 L880.19,238.01 L880.10,238.06 L880.01,238.11 L879.92,238.16 L879.83,238.21 L879.74,238.26 L879.64,238.31 L879.55,238.36 L879.46,238.41 L879.37,238.45 L879.28,238.50 L879.18,238.55 L879.09,238.60 L879.00,238.65 L878.91,238.70 L878.81,238.75 L878.72,238.80 L878.63,238.85 L878.53,238.90 L878.44,238.95 L878.35,238.99 L878.25,239.04 L878.16,239.09 L878.07,239.14 L877.97,239.19 L877.88,239.24 L877.79,239.29 L877.69,239.34 L877.60,239.39 L877.51,239.44 L877.41,239.49 L877.32,239.53 L877.22,239.58 L877.13,239.63 L877.04,239.68 L876.94,239.73 L876.85,239.78 L876.75,239.83 L876.66,239.88 L876.56,239.93 L876.47,239.98 L876.37,240.03 L876.28,240.07 L876.18,240.12 L876.09,240.17 L875.99,240.22 L875.90,240.27 L875.80,240.32 L875.71,240.37 L875.61,240.42 L875.51,240.47 L875.42,240.52 L875.32,240.57 L875.23,240.62 L875.13,240.66 L875.03,240.71 L874.94,240.76 L874.84,240.81 L874.75,240.86 L874.65,240.91 L874.55,240.96 L874.46,241.01 L874.36,241.06 L874.26,241.11 L874.17,241.16 L874.07,241.21 L873.97,241.25 L873.88,241.30 L873.78,241.35 L873.68,241.40 L873.58,241.45 L873.49,241.50 L873.39,241.55 L873.29,241.60 L873.19,241.65 L873.10,241.70 L873.00,241.75 L872.90,241.80 L872.80,241.84 L872.70,241.89 L872.61,241.94 L872.51,241.99 L872.41,242.04 L872.31,242.09 L872.21,242.14 L872.11,242.19 L872.01,242.24 L871.92,242.29 L871.82,242.34 L871.72,242.39 L871.62,242.44 L871.52,242.48 L871.42,242.53 L871.32,242.58 L871.22,242.63 L871.12,242.68 L871.02,242.73 L870.92,242.78 L870.82,242.83 L870.72,242.88 L870.62,242.93 L870.52,242.98 L870.42,243.03 L870.32,243.08 L870.22,243.13 L870.12,243.17 L870.02,243.22 L869.92,243.27 L869.82,243.32 L869.72,243.37 L869.62,243.42 L869.52,243.47 L869.42,243.52 L869.32,243.57 L869.22,243.62 L869.12,243.67 L869.01,243.72 L868.91,243.77 L868.81,243.82 L868.71,243.86 L868.61,243.91 L868.51,243.96 L868.41,244.01 L868.30,244.06 L868.20,244.11 L868.10,244.16 L868.00,244.21 L867.90,244.26 L867.79,244.31 L867.69,244.36 L867.59,244.41 L867.49,244.46 L867.38,244.51 L867.28,244.56 L867.18,244.60 L867.08,244.65 L866.97,244.70 L866.87,244.75 L866.77,244.80 L866.66,244.85 L866.56,244.90 L866.46,244.95 L866.35,245.00 L866.25,245.05 L866.15,245.10 L866.04,245.15 L865.94,245.20 L865.84,245.25 L865.73,245.30 L865.63,245.35 L865.52,245.39 L865.42,245.44 L865.32,245.49 L865.21,245.54 L865.11,245.59 L865.00,245.64 L864.90,245.69 L864.79,245.74 L864.69,245.79 L864.58,245.84 L864.48,245.89 L864.37,245.94 L864.27,245.99 L864.16,246.04 L864.06,246.09 L863.95,246.14 L863.85,246.19 L863.74,246.23 L863.64,246.28 L863.53,246.33 L863.42,246.38 L863.32,246.43 L863.21,246.48 L863.11,246.53 L863.00,246.58" fill="none" stroke="#231f20" stroke-width="3.15" stroke-linecap="round"/><polygon points="855.70,249.90 870.28,237.14 872.10,242.62 874.94,247.65" fill="#231f20"/>
<path d="M742.50,271.60 L742.29,271.62 L742.07,271.64 L741.86,271.66 L741.65,271.69 L741.44,271.71 L741.22,271.73 L741.01,271.75 L740.80,271.77 L740.59,271.79 L740.38,271.81 L740.17,271.83 L739.96,271.85 L739.74,271.86 L739.53,271.88 L739.32,271.90 L739.11,271.92 L738.90,271.94 L738.69,271.95 L738.48,271.97 L738.27,271.99 L738.06,272.01 L737.85,272.02 L737.65,272.04 L737.44,272.05 L737.23,272.07 L737.02,272.09 L736.81,272.10 L736.60,272.12 L736.39,272.13 L736.19,272.14 L735.98,272.16 L735.77,272.17 L735.56,272.19 L735.35,272.20 L735.15,272.21 L734.94,272.22 L734.73,272.24 L734.53,272.25 L734.32,272.26 L734.11,272.27 L733.91,272.28 L733.70,272.30 L733.50,272.31 L733.29,272.32 L733.09,272.33 L732.88,272.34 L732.67,272.35 L732.47,272.36 L732.27,272.37 L732.06,272.38 L731.86,272.38 L731.65,272.39 L731.45,272.40 L731.24,272.41 L731.04,272.42 L730.84,272.43 L730.63,272.43 L730.43,272.44 L730.23,272.45 L730.02,272.45 L729.82,272.46 L729.62,272.47 L729.42,272.47 L729.21,272.48 L729.01,272.48 L728.81,272.49 L728.61,272.49 L728.41,272.50 L728.20,272.50 L728.00,272.50 L727.80,272.51 L727.60,272.51 L727.40,272.51 L727.20,272.52 L727.00,272.52 L726.80,272.52 L726.60,272.52 L726.40,272.53 L726.20,272.53 L726.00,272.53 L725.80,272.53 L725.60,272.53 L725.40,272.53 L725.20,272.53 L725.00,272.53 L724.81,272.53 L724.61,272.53 L724.41,272.53 L724.21,272.53 L724.01,272.53 L723.82,272.53 L723.62,272.52 L723.42,272.52 L723.22,272.52 L723.03,272.52 L722.83,272.51 L722.63,272.51 L722.44,272.51 L722.24,272.50 L722.04,272.50 L721.85,272.49 L721.65,272.49 L721.46,272.49 L721.26,272.48 L721.07,272.48 L720.87,272.47 L720.68,272.46 L720.48,272.46 L720.29,272.45 L720.09,272.45 L719.90,272.44 L719.70,272.43 L719.51,272.42 L719.32,272.42 L719.12,272.41 L718.93,272.40 L718.74,272.39 L718.54,272.38 L718.35,272.37 L718.16,272.37 L717.96,272.36 L717.77,272.35 L717.58,272.34 L717.39,272.33 L717.20,272.32 L717.00,272.30 L716.81,272.29 L716.62,272.28 L716.43,272.27 L716.24,272.26 L716.05,272.25 L715.86,272.23 L715.67,272.22 L715.48,272.21 L715.29,272.20 L715.10,272.18 L714.91,272.17 L714.72,272.16 L714.53,272.14 L714.34,272.13 L714.15,272.11 L713.96,272.10 L713.77,272.08 L713.58,272.07 L713.39,272.05 L713.20,272.04 L713.02,272.02 L712.83,272.00 L712.64,271.99 L712.45,271.97 L712.27,271.95 L712.08,271.93 L711.89,271.92 L711.70,271.90 L711.52,271.88 L711.33,271.86 L711.14,271.84 L710.96,271.82 L710.77,271.80 L710.59,271.78 L710.40,271.76 L710.21,271.74 L710.03,271.72 L709.84,271.70 L709.66,271.68 L709.47,271.66 L709.29,271.64 L709.10,271.62 L708.92,271.60 L708.74,271.57 L708.55,271.55 L708.37,271.53 L708.18,271.51 L708.00,271.48 L707.82,271.46 L707.63,271.43 L707.45,271.41 L707.27,271.39 L707.08,271.36 L706.90,271.34 L706.72,271.31 L706.54,271.29 L706.35,271.26 L706.17,271.23 L705.99,271.21 L705.81,271.18 L705.63,271.16 L705.45,271.13 L705.27,271.10 L705.09,271.07 L704.90,271.05 L704.72,271.02 L704.54,270.99 L704.36,270.96 L704.18,270.93 L704.00,270.90 L703.82,270.87 L703.64,270.84 L703.46,270.82 L703.29,270.78 L703.11,270.75 L702.93,270.72 L702.75,270.69 L702.57,270.66 L702.39,270.63 L702.21,270.60 L702.04,270.57 L701.86,270.53 L701.68,270.50 L701.50,270.47 L701.33,270.44 L701.15,270.40 L700.97,270.37 L700.79,270.34 L700.62,270.30 L700.44,270.27 L700.27,270.23 L700.09,270.20 L699.91,270.16 L699.74,270.13 L699.56,270.09 L699.39,270.06 L699.21,270.02 L699.04,269.98 L698.86,269.95 L698.69,269.91 L698.51,269.87 L698.34,269.84 L698.16,269.80 L697.99,269.76 L697.81,269.72 L697.64,269.68 L697.47,269.65 L697.29,269.61 L697.12,269.57 L696.95,269.53 L696.77,269.49 L696.60,269.45 L696.43,269.41 L696.26,269.37 L696.08,269.33 L695.91,269.29 L695.74,269.24 L695.57,269.20 L695.40,269.16 L695.23,269.12 L695.05,269.08 L694.88,269.03 L694.71,268.99 L694.54,268.95 L694.37,268.90 L694.20,268.86 L694.03,268.82 L693.86,268.77 L693.69,268.73 L693.52,268.68 L693.35,268.64 L693.18,268.59 L693.01,268.55 L692.84,268.50 L692.68,268.46 L692.51,268.41 L692.34,268.36 L692.17,268.32 L692.00,268.27 L691.83,268.22 L691.67,268.17 L691.50,268.13 L691.33,268.08 L691.16,268.03 L691.00,267.98 L690.83,267.93 L690.66,267.88 L690.50,267.83 L690.33,267.78 L690.16,267.73 L690.00,267.68 L689.83,267.63 L689.66,267.58 L689.50,267.53 L689.33,267.48 L689.17,267.43 L689.00,267.38 L688.84,267.33 L688.67,267.27 L688.51,267.22 L688.34,267.17 L688.18,267.12 L688.02,267.06 L687.85,267.01 L687.69,266.95 L687.52,266.90 L687.36,266.85 L687.20,266.79 L687.03,266.74 L686.87,266.68 L686.71,266.63 L686.55,266.57 L686.38,266.51 L686.22,266.46 L686.06,266.40 L685.90,266.34 L685.74,266.29 L685.57,266.23 L685.41,266.17 L685.25,266.12 L685.09,266.06 L684.93,266.00 L684.77,265.94 L684.61,265.88 L684.45,265.82 L684.29,265.76 L684.13,265.70 L683.97,265.64 L683.81,265.58 L683.65,265.52 L683.49,265.46 L683.33,265.40 L683.17,265.34 L683.01,265.28 L682.85,265.22 L682.70,265.16 L682.54,265.09 L682.38,265.03 L682.22,264.97 L682.06,264.90 L681.91,264.84 L681.75,264.78 L681.59,264.71 L681.43,264.65 L681.28,264.59 L681.12,264.52 L680.96,264.46 L680.81,264.39 L680.65,264.33 L680.49,264.26 L680.34,264.19 L680.18,264.13 L680.03,264.06 L679.87,264.00 L679.72,263.93 L679.56,263.86 L679.41,263.79 L679.25,263.73 L679.10,263.66 L678.94,263.59 L678.79,263.52 L678.63,263.45 L678.48,263.38 L678.33,263.31 L678.17,263.24" fill="none" stroke="#231f20" stroke-width="3.15" stroke-linecap="round"/><polygon points="671.00,259.60 689.93,263.70 686.62,268.43 684.27,273.71" fill="#231f20"/>
<path d="M726.70,337.60 L726.33,337.51 L725.95,337.42 L725.58,337.33 L725.21,337.24 L724.84,337.15 L724.47,337.06 L724.10,336.97 L723.73,336.88 L723.36,336.78 L723.00,336.69 L722.63,336.60 L722.27,336.50 L721.90,336.41 L721.54,336.31 L721.18,336.22 L720.81,336.12 L720.45,336.02 L720.09,335.92 L719.73,335.83 L719.38,335.73 L719.02,335.63 L718.66,335.53 L718.31,335.43 L717.95,335.33 L717.60,335.23 L717.24,335.12 L716.89,335.02 L716.54,334.92 L716.19,334.81 L715.84,334.71 L715.49,334.61 L715.14,334.50 L714.79,334.40 L714.45,334.29 L714.10,334.18 L713.76,334.07 L713.41,333.97 L713.07,333.86 L712.72,333.75 L712.38,333.64 L712.04,333.53 L711.70,333.42 L711.36,333.31 L711.02,333.20 L710.69,333.08 L710.35,332.97 L710.01,332.86 L709.68,332.74 L709.34,332.63 L709.01,332.52 L708.68,332.40 L708.35,332.28 L708.01,332.17 L707.68,332.05 L707.35,331.93 L707.03,331.81 L706.70,331.70 L706.37,331.58 L706.04,331.46 L705.72,331.34 L705.40,331.22 L705.07,331.09 L704.75,330.97 L704.43,330.85 L704.11,330.73 L703.78,330.60 L703.47,330.48 L703.15,330.35 L702.83,330.23 L702.51,330.10 L702.20,329.98 L701.88,329.85 L701.57,329.72 L701.25,329.60 L700.94,329.47 L700.63,329.34 L700.32,329.21 L700.00,329.08 L699.70,328.95 L699.39,328.82 L699.08,328.69 L698.77,328.55 L698.46,328.42 L698.16,328.29 L697.85,328.15 L697.55,328.02 L697.25,327.89 L696.95,327.75 L696.64,327.61 L696.34,327.48 L696.04,327.34 L695.74,327.20 L695.45,327.06 L695.15,326.93 L694.85,326.79 L694.56,326.65 L694.26,326.51 L693.97,326.37 L693.68,326.23 L693.38,326.08 L693.09,325.94 L692.80,325.80 L692.51,325.65 L692.22,325.51 L691.93,325.37 L691.65,325.22 L691.36,325.08 L691.07,324.93 L690.79,324.78 L690.51,324.64 L690.22,324.49 L689.94,324.34 L689.66,324.19 L689.38,324.04 L689.10,323.89 L688.82,323.74 L688.54,323.59 L688.26,323.44 L687.99,323.29 L687.71,323.13 L687.44,322.98 L687.16,322.83 L686.89,322.67 L686.62,322.52 L686.34,322.36 L686.07,322.21 L685.80,322.05 L685.53,321.89 L685.27,321.74 L685.00,321.58 L684.73,321.42 L684.47,321.26 L684.20,321.10 L683.94,320.94 L683.67,320.78 L683.41,320.62 L683.15,320.46 L682.89,320.29 L682.63,320.13 L682.37,319.97 L682.11,319.80 L681.85,319.64 L681.59,319.47 L681.34,319.31 L681.08,319.14 L680.83,318.98 L680.58,318.81 L680.32,318.64 L680.07,318.47 L679.82,318.30 L679.57,318.13 L679.32,317.96 L679.07,317.79 L678.82,317.62 L678.58,317.45 L678.33,317.28 L678.09,317.11 L677.84,316.93 L677.60,316.76 L677.35,316.59 L677.11,316.41 L676.87,316.24 L676.63,316.06 L676.39,315.88 L676.15,315.71 L675.92,315.53 L675.68,315.35 L675.44,315.17 L675.21,314.99 L674.97,314.81 L674.74,314.63 L674.51,314.45 L674.27,314.27 L674.04,314.09 L673.81,313.91 L673.58,313.73 L673.35,313.54 L673.13,313.36 L672.90,313.17 L672.67,312.99 L672.45,312.80 L672.22,312.62 L672.00,312.43 L671.78,312.24 L671.55,312.06 L671.33,311.87 L671.11,311.68 L670.89,311.49 L670.67,311.30 L670.46,311.11 L670.24,310.92 L670.02,310.73 L669.81,310.54 L669.59,310.34 L669.38,310.15 L669.16,309.96 L668.95,309.76 L668.74,309.57 L668.53,309.37 L668.32,309.18 L668.11,308.98 L667.90,308.78 L667.70,308.59 L667.49,308.39 L667.28,308.19 L667.08,307.99 L666.87,307.79 L666.67,307.59 L666.47,307.39 L666.27,307.19 L666.07,306.99 L665.87,306.79 L665.67,306.58 L665.47,306.38 L665.27,306.18 L665.08,305.97 L664.88,305.77 L664.69,305.56 L664.49,305.36 L664.30,305.15 L664.11,304.94 L663.91,304.73 L663.72,304.53 L663.53,304.32 L663.34,304.11 L663.16,303.90 L662.97,303.69 L662.78,303.48 L662.60,303.27 L662.41,303.05 L662.23,302.84 L662.04,302.63 L661.86,302.42 L661.68,302.20 L661.50,301.99 L661.32,301.77 L661.14,301.56 L660.96,301.34 L660.78,301.12 L660.61,300.91 L660.43,300.69 L660.26,300.47 L660.08,300.25 L659.91,300.03 L659.73,299.81 L659.56,299.59 L659.39,299.37 L659.22,299.15 L659.05,298.93 L658.88,298.70 L658.72,298.48 L658.55,298.26 L658.38,298.03 L658.22,297.81 L658.05,297.58 L657.89,297.36 L657.73,297.13 L657.57,296.90 L657.40,296.67 L657.24,296.45 L657.08,296.22 L656.93,295.99 L656.77,295.76 L656.61,295.53 L656.46,295.30 L656.30,295.07 L656.15,294.83 L655.99,294.60 L655.84,294.37 L655.69,294.14 L655.54,293.90 L655.39,293.67 L655.24,293.43 L655.09,293.20 L654.94,292.96 L654.79,292.72 L654.65,292.49 L654.50,292.25 L654.36,292.01 L654.21,291.77 L654.07,291.53 L653.93,291.29 L653.79,291.05 L653.65,290.81 L653.51,290.57 L653.37,290.33 L653.23,290.08 L653.09,289.84 L652.96,289.60 L652.82,289.35 L652.69,289.11 L652.55,288.86 L652.42,288.62 L652.29,288.37 L652.16,288.12 L652.02,287.88 L651.90,287.63 L651.77,287.38 L651.64,287.13 L651.51,286.88 L651.38,286.63 L651.26,286.38 L651.13,286.13 L651.01,285.88 L650.89,285.63 L650.76,285.37 L650.64,285.12 L650.52,284.87 L650.40,284.61 L650.28,284.36 L650.17,284.10 L650.05,283.84 L649.93,283.59 L649.82,283.33 L649.70,283.07 L649.59,282.81 L649.47,282.56 L649.36,282.30 L649.25,282.04 L649.14,281.78 L649.03,281.51 L648.92,281.25 L648.81,280.99 L648.70,280.73 L648.60,280.47 L648.49,280.20 L648.39,279.94 L648.28,279.67 L648.18,279.41 L648.08,279.14 L647.98,278.88 L647.88,278.61 L647.78,278.34 L647.68,278.07 L647.58,277.80 L647.48,277.54 L647.38,277.27 L647.29,277.00 L647.19,276.73 L647.10,276.45 L647.00,276.18 L646.91,275.91 L646.82,275.64 L646.73,275.36 L646.64,275.09 L646.55,274.82 L646.46,274.54 L646.37,274.27 L646.29,273.99 L646.20,273.71 L646.12,273.44 L646.03,273.16 L645.95,272.88 L645.87,272.60 L645.78,272.32 L645.70,272.04 L645.62,271.76 L645.54,271.48 L645.46,271.20 L645.39,270.92 L645.31,270.63 L645.23,270.35 L645.16,270.07 L645.08,269.78 L645.01,269.50 L644.94,269.21 L644.87,268.93 L644.80,268.64 L644.72,268.36 L644.66,268.07 L644.59,267.78 L644.52,267.49" fill="none" stroke="#231f20" stroke-width="3.15" stroke-linecap="round"/><polygon points="643.00,259.50 654.64,274.99 649.04,276.40 643.81,278.86" fill="#231f20"/>
<path d="M595.00,207.00 L594.88,206.86 L594.77,206.73 L594.66,206.59 L594.54,206.46 L594.43,206.32 L594.31,206.19 L594.20,206.05 L594.08,205.92 L593.97,205.78 L593.86,205.64 L593.74,205.51 L593.63,205.37 L593.52,205.23 L593.41,205.10 L593.30,204.96 L593.18,204.83 L593.07,204.69 L592.96,204.55 L592.85,204.42 L592.74,204.28 L592.63,204.14 L592.52,204.01 L592.41,203.87 L592.30,203.73 L592.19,203.60 L592.08,203.46 L591.97,203.32 L591.86,203.18 L591.75,203.05 L591.64,202.91 L591.53,202.77 L591.42,202.63 L591.31,202.50 L591.21,202.36 L591.10,202.22 L590.99,202.08 L590.88,201.95 L590.78,201.81 L590.67,201.67 L590.56,201.53 L590.46,201.39 L590.35,201.26 L590.24,201.12 L590.14,200.98 L590.03,200.84 L589.93,200.70 L589.82,200.56 L589.72,200.43 L589.61,200.29 L589.51,200.15 L589.40,200.01 L589.30,199.87 L589.19,199.73 L589.09,199.59 L588.99,199.45 L588.88,199.31 L588.78,199.18 L588.68,199.04 L588.58,198.90 L588.47,198.76 L588.37,198.62 L588.27,198.48 L588.17,198.34 L588.07,198.20 L587.97,198.06 L587.86,197.92 L587.76,197.78 L587.66,197.64 L587.56,197.50 L587.46,197.36 L587.36,197.22 L587.26,197.08 L587.16,196.94 L587.06,196.80 L586.96,196.66 L586.87,196.52 L586.77,196.38 L586.67,196.24 L586.57,196.10 L586.47,195.96 L586.37,195.82 L586.28,195.67 L586.18,195.53 L586.08,195.39 L585.99,195.25 L585.89,195.11 L585.79,194.97 L585.70,194.83 L585.60,194.69 L585.50,194.54 L585.41,194.40 L585.31,194.26 L585.22,194.12 L585.12,193.98 L585.03,193.84 L584.93,193.69 L584.84,193.55 L584.75,193.41 L584.65,193.27 L584.56,193.13 L584.46,192.98 L584.37,192.84 L584.28,192.70 L584.19,192.56 L584.09,192.42 L584.00,192.27 L583.91,192.13 L583.82,191.99 L583.72,191.85 L583.63,191.70 L583.54,191.56 L583.45,191.42 L583.36,191.27 L583.27,191.13 L583.18,190.99 L583.09,190.84 L583.00,190.70 L582.91,190.56 L582.82,190.41 L582.73,190.27 L582.64,190.13 L582.55,189.98 L582.46,189.84 L582.38,189.70 L582.29,189.55 L582.20,189.41 L582.11,189.26 L582.02,189.12 L581.94,188.98 L581.85,188.83 L581.76,188.69 L581.68,188.54 L581.59,188.40 L581.50,188.26 L581.42,188.11 L581.33,187.97 L581.25,187.82 L581.16,187.68 L581.07,187.53 L580.99,187.39 L580.90,187.24 L580.82,187.10 L580.74,186.95 L580.65,186.81 L580.57,186.66 L580.48,186.52 L580.40,186.37 L580.32,186.23 L580.23,186.08 L580.15,185.94 L580.07,185.79 L579.99,185.64 L579.90,185.50 L579.82,185.35 L579.74,185.21 L579.66,185.06 L579.58,184.92 L579.50,184.77 L579.42,184.62 L579.34,184.48 L579.26,184.33 L579.18,184.19 L579.10,184.04 L579.02,183.89 L578.94,183.75 L578.86,183.60 L578.78,183.45 L578.70,183.31 L578.62,183.16 L578.54,183.01 L578.46,182.87 L578.39,182.72 L578.31,182.57 L578.23,182.42 L578.15,182.28 L578.08,182.13 L578.00,181.98 L577.92,181.84 L577.85,181.69 L577.77,181.54 L577.69,181.39 L577.62,181.24 L577.54,181.10 L577.47,180.95 L577.39,180.80 L577.32,180.65 L577.24,180.51 L577.17,180.36 L577.09,180.21 L577.02,180.06 L576.94,179.91 L576.87,179.76 L576.80,179.62 L576.72,179.47 L576.65,179.32 L576.58,179.17 L576.51,179.02 L576.43,178.87 L576.36,178.72 L576.29,178.58 L576.22,178.43 L576.15,178.28 L576.07,178.13 L576.00,177.98 L575.93,177.83 L575.86,177.68 L575.79,177.53 L575.72,177.38 L575.65,177.23 L575.58,177.08 L575.51,176.93 L575.44,176.78 L575.37,176.63 L575.30,176.48 L575.24,176.33 L575.17,176.18 L575.10,176.03 L575.03,175.88 L574.96,175.73 L574.90,175.58 L574.83,175.43 L574.76,175.28 L574.69,175.13 L574.63,174.98 L574.56,174.83 L574.50,174.68 L574.43,174.53 L574.36,174.38 L574.30,174.23 L574.23,174.08 L574.17,173.93 L574.10,173.78 L574.04,173.62 L573.97,173.47 L573.91,173.32 L573.84,173.17 L573.78,173.02 L573.72,172.87 L573.65,172.72 L573.59,172.57 L573.53,172.41 L573.46,172.26 L573.40,172.11 L573.34,171.96 L573.28,171.81 L573.22,171.65 L573.15,171.50 L573.09,171.35 L573.03,171.20 L572.97,171.05 L572.91,170.89 L572.85,170.74 L572.79,170.59 L572.73,170.44 L572.67,170.28 L572.61,170.13 L572.55,169.98 L572.49,169.82 L572.43,169.67 L572.37,169.52 L572.31,169.37 L572.25,169.21 L572.20,169.06 L572.14,168.91 L572.08,168.75 L572.02,168.60 L571.96,168.45 L571.91,168.29 L571.85,168.14 L571.79,167.99 L571.74,167.83 L571.68,167.68 L571.63,167.52 L571.57,167.37 L571.51,167.22 L571.46,167.06 L571.40,166.91 L571.35,166.75 L571.29,166.60 L571.24,166.45 L571.18,166.29 L571.13,166.14 L571.08,165.98 L571.02,165.83 L570.97,165.67 L570.92,165.52 L570.86,165.36 L570.81,165.21 L570.76,165.05 L570.71,164.90 L570.65,164.74 L570.60,164.59 L570.55,164.43 L570.50,164.28 L570.45,164.12 L570.40,163.97 L570.34,163.81 L570.29,163.66 L570.24,163.50 L570.19,163.35 L570.14,163.19 L570.09,163.03 L570.04,162.88 L570.00,162.72 L569.95,162.57 L569.90,162.41 L569.85,162.25 L569.80,162.10 L569.75,161.94 L569.70,161.79 L569.66,161.63 L569.61,161.47 L569.56,161.32 L569.51,161.16 L569.47,161.00 L569.42,160.85 L569.37,160.69 L569.33,160.53 L569.28,160.38 L569.24,160.22 L569.19,160.06 L569.14,159.90 L569.10,159.75 L569.05,159.59 L569.01,159.43 L568.96,159.27 L568.92,159.12 L568.88,158.96 L568.83,158.80 L568.79,158.64 L568.75,158.49 L568.70,158.33 L568.66,158.17 L568.62,158.01 L568.57,157.86 L568.53,157.70 L568.49,157.54 L568.45,157.38 L568.41,157.22 L568.36,157.06 L568.32,156.91 L568.28,156.75 L568.24,156.59 L568.20,156.43 L568.16,156.27 L568.12,156.11 L568.08,155.95 L568.04,155.79 L568.00,155.64 L567.96,155.48" fill="none" stroke="#231f20" stroke-width="3.15" stroke-linecap="round"/><polygon points="566.30,147.60 574.50,163.93 569.24,164.32 564.16,165.74" fill="#231f20"/>
<rect x="633.5" y="38.2" width="110" height="43.6" fill="none" stroke="#4a4a4a" stroke-width="1.1"/>
<rect x="879.5" y="209.5" width="50.5" height="21" fill="#fff" stroke="#555" stroke-width="1.1"/>
<path d="M444.70,96.51 L445.50,96.56 L446.29,96.64 L447.09,96.76 L447.87,96.92 L448.65,97.12 L449.42,97.35 L450.17,97.62 L450.92,97.92 L451.64,98.25 L452.36,98.63 L453.05,99.03 L453.72,99.46 L454.37,99.93 L455.00,100.43 L455.61,100.95 L456.19,101.51 L456.74,102.09 L457.27,102.69 L457.77,103.32 L458.23,103.97 L458.67,104.65 L459.07,105.34 L459.44,106.05 L459.78,106.78 L460.08,107.52 L460.35,108.28 L460.58,109.04 L460.78,109.82 L460.94,110.61 L461.06,111.40 L461.14,112.20 L461.19,113.00 L461.20,113.80 L461.17,114.60 L461.11,115.40 L461.00,116.19 L460.86,116.98 L460.68,117.77 L460.47,118.54 L460.22,119.30 L459.94,120.05 L459.62,120.79 L459.26,121.51 L458.88,122.21 L458.46,122.89 L458.00,123.55 L457.52,124.19 L457.01,124.81 L456.47,125.40 L455.90,125.97 L455.31,126.51 L454.69,127.02 L454.05,127.50 L453.39,127.96 L452.71,128.38 L452.01,128.76 L451.29,129.12 L450.55,129.44 L449.80,129.72 L449.04,129.97 L448.27,130.18 L447.48,130.36 L446.69,130.50 L445.90,130.61 L445.10,130.67 L444.30,130.70 L443.50,130.69 L442.70,130.64 L441.90,130.56 L441.11,130.44 L440.32,130.28 L439.54,130.08 L438.78,129.85 L438.02,129.58 L437.28,129.28 L436.55,128.94 L435.84,128.57 L435.15,128.17 L434.47,127.73 L433.82,127.27 L433.19,126.77 L432.59,126.24 L432.01,125.69 L431.45,125.11 L430.93,124.50 L430.43,123.87 L429.96,123.22 L429.53,122.55 L429.13,121.86 L428.75,121.14 L428.42,120.42 L428.12,119.67 L427.85,118.92 L427.62,118.15 L427.42,117.37 L427.26,116.59 L427.14,115.79 L427.06,115.00 L427.01,114.20" fill="none" stroke="#505050" stroke-width="1.5"/><polygon points="426.60,101.60 422.70,114.60 430.50,114.60" fill="#1a1a1a"/><text transform="translate(437.88,119.70) scale(0.9913,1)" font-size="17.5" font-weight="normal" font-style="normal" letter-spacing="0.000" fill="#2a2a2a" stroke="#2a2a2a" stroke-width="0.3">R</text>
<path d="M750.86,114.71 L751.68,114.76 L752.49,114.84 L753.30,114.97 L754.10,115.13 L754.89,115.33 L755.68,115.57 L756.45,115.84 L757.21,116.15 L757.95,116.49 L758.67,116.87 L759.38,117.28 L760.07,117.72 L760.73,118.20 L761.38,118.71 L761.99,119.24 L762.59,119.81 L763.15,120.40 L763.69,121.02 L764.20,121.66 L764.67,122.33 L765.12,123.01 L765.53,123.72 L765.91,124.45 L766.25,125.19 L766.56,125.95 L766.83,126.72 L767.07,127.50 L767.27,128.29 L767.43,129.10 L767.55,129.90 L767.64,130.72 L767.69,131.53 L767.70,132.35 L767.67,133.17 L767.60,133.99 L767.50,134.80 L767.35,135.60 L767.17,136.40 L766.96,137.19 L766.70,137.97 L766.41,138.73 L766.08,139.48 L765.72,140.22 L765.33,140.93 L764.90,141.63 L764.44,142.31 L763.95,142.96 L763.43,143.59 L762.87,144.20 L762.30,144.77 L761.69,145.33 L761.06,145.85 L760.41,146.34 L759.73,146.80 L759.03,147.23 L758.32,147.62 L757.58,147.98 L756.83,148.31 L756.07,148.60 L755.29,148.86 L754.50,149.07 L753.70,149.25 L752.90,149.40 L752.09,149.50 L751.27,149.57 L750.45,149.60 L749.63,149.59 L748.82,149.54 L748.00,149.45 L747.20,149.33 L746.39,149.17 L745.60,148.97 L744.82,148.73 L744.05,148.46 L743.29,148.15 L742.55,147.81 L741.82,147.43 L741.11,147.02 L740.43,146.57 L739.76,146.10 L739.12,145.59 L738.50,145.05 L737.91,144.49 L737.34,143.89 L736.81,143.28 L736.30,142.63 L735.82,141.97 L735.38,141.28 L734.97,140.57 L734.59,139.85 L734.25,139.11 L733.94,138.35 L733.67,137.58 L733.43,136.79 L733.23,136.00 L733.07,135.20 L732.94,134.39 L732.86,133.58 L732.81,132.76" fill="none" stroke="#505050" stroke-width="1.5"/><polygon points="732.90,120.00 729.00,133.00 736.80,133.00" fill="#1a1a1a"/><text transform="translate(744.77,138.20) scale(0.9985,1)" font-size="17.5" font-weight="normal" font-style="normal" letter-spacing="0.000" fill="#2a2a2a" stroke="#2a2a2a" stroke-width="0.3">B</text>
<line x1="125.4" y1="303" x2="252.3" y2="192.6" stroke="#2e5f86" stroke-width="1.8"/>
<polygon points="256.30,189.10 252.14,198.03 249.51,195.01 246.88,191.99" fill="#2e5f86"/>
<line x1="605" y1="482.3" x2="1024" y2="482.3" stroke="#f3f3f3" stroke-width="1.2" stroke-dasharray="3 9"/>
<rect x="46.5" y="341" width="188.3" height="127.3" fill="none" stroke="#b4dcaa" stroke-width="1.3"/>
<text transform="translate(267.24,152.00) scale(1.0067,1)" font-size="18.5" font-weight="bold" font-style="normal" letter-spacing="-0.000" fill="#231f20" >Confidence</text>
<text transform="translate(525.88,143.40) scale(1.0064,1)" font-size="18.5" font-weight="bold" font-style="normal" letter-spacing="0.000" fill="#231f20" >Updating</text>
<text transform="translate(639.84,56.30) scale(1.0721,1)" font-size="17.5" font-weight="bold" font-style="normal" letter-spacing="-0.000" fill="#231f20" >Diagnostic</text>
<text transform="translate(651.86,76.20) scale(1.0775,1)" font-size="17.5" font-weight="bold" font-style="normal" letter-spacing="0.000" fill="#231f20" >Schema</text>
<text transform="translate(826.06,91.80) scale(1.0324,1)" font-size="18" font-weight="bold" font-style="normal" letter-spacing="0.000" fill="#231f20" >Diagnosis</text>
<text transform="translate(895.19,180.40) scale(1.0370,1)" font-size="18" font-weight="bold" font-style="normal" letter-spacing="0.000" fill="#231f20" >Therapy</text>
<text transform="translate(608.26,225.20) scale(1.0569,1)" font-size="17.5" font-weight="bold" font-style="normal" letter-spacing="0.000" fill="#231f20" >Patient</text>
<text transform="translate(598.33,240.50) scale(1.0721,1)" font-size="17.5" font-weight="bold" font-style="normal" letter-spacing="0.000" fill="#231f20" >Outcome</text>
<text transform="translate(620.22,254.70) scale(1.0921,1)" font-size="17.5" font-weight="bold" font-style="normal" letter-spacing="0.000" fill="#231f20" >Gap</text>
<text transform="translate(754.22,235.50) scale(1.0816,1)" font-size="17.5" font-weight="bold" font-style="normal" letter-spacing="0.000" fill="#231f20" >Observed</text>
<text transform="translate(766.85,252.80) scale(1.0657,1)" font-size="17.5" font-weight="bold" font-style="normal" letter-spacing="0.000" fill="#231f20" >Patient</text>
<text transform="translate(752.03,270.50) scale(1.0720,1)" font-size="17.5" font-weight="bold" font-style="normal" letter-spacing="0.000" fill="#231f20" >Outcomes</text>
<text transform="translate(759.63,316.50) scale(1.0876,1)" font-size="17.5" font-weight="bold" font-style="normal" letter-spacing="0.000" fill="#231f20" >Expected</text>
<text transform="translate(770.65,333.30) scale(1.0692,1)" font-size="17.5" font-weight="bold" font-style="normal" letter-spacing="0.000" fill="#231f20" >Patient</text>
<text transform="translate(756.33,349.80) scale(1.0720,1)" font-size="17.5" font-weight="bold" font-style="normal" letter-spacing="-0.000" fill="#231f20" >Outcomes</text>
<text transform="translate(880.90,225.90) scale(0.9634,1)" font-size="15.2" font-weight="normal" font-style="normal" letter-spacing="0.000" fill="#2a2a2a" >DELAY</text>
<text transform="translate(390.90,149.20) scale(1.0178,1)" font-size="14" font-weight="normal" font-style="italic" letter-spacing="0.000" fill="#333" stroke="#333" stroke-width="0.25">Self-confirming</text>
<text transform="translate(425.19,165.00) scale(1.0438,1)" font-size="14" font-weight="normal" font-style="italic" letter-spacing="-0.000" fill="#333" stroke="#333" stroke-width="0.25">bias</text>
<text transform="translate(714.27,168.60) scale(1.0075,1)" font-size="14" font-weight="normal" font-style="italic" letter-spacing="0.000" fill="#333" stroke="#333" stroke-width="0.25">Long-term</text>
<text transform="translate(712.13,184.90) scale(1.0299,1)" font-size="14" font-weight="normal" font-style="italic" letter-spacing="0.000" fill="#333" stroke="#333" stroke-width="0.25">callibration</text>
<text transform="translate(54.61,363.90) scale(1.0215,1)" font-size="19" font-weight="normal" font-style="normal" letter-spacing="0.186" fill="#b02414" stroke="#b02414" stroke-width="0.4">Influencia</text>
<text transform="translate(143.30,363.90) scale(1.0002,1)" font-size="19" font-weight="normal" font-style="normal" letter-spacing="0.004" fill="#b02414" stroke="#b02414" stroke-width="0.4">de</text>
<text transform="translate(168.52,363.90) scale(0.9997,1)" font-size="19" font-weight="normal" font-style="normal" letter-spacing="-0.004" fill="#b02414" stroke="#b02414" stroke-width="0.4">la</text>
<text transform="translate(188.25,363.90) scale(0.9928,1)" font-size="19" font-weight="normal" font-style="normal" letter-spacing="-0.068" fill="#b02414" stroke="#b02414" stroke-width="0.4">FI.</text>
<text transform="translate(54.86,386.60) scale(0.9852,1)" font-size="19" font-weight="normal" font-style="normal" letter-spacing="-0.169" fill="#b02414" stroke="#b02414" stroke-width="0.4">Llena</text>
<text transform="translate(105.91,386.60) scale(1.0062,1)" font-size="19" font-weight="normal" font-style="normal" letter-spacing="0.069" fill="#b02414" stroke="#b02414" stroke-width="0.4">los</text>
<text transform="translate(134.58,386.60) scale(1.0150,1)" font-size="19" font-weight="normal" font-style="normal" letter-spacing="0.155" fill="#b02414" stroke="#b02414" stroke-width="0.4">espacios</text>
<text transform="translate(55.30,410.90) scale(0.9950,1)" font-size="19" font-weight="normal" font-style="normal" letter-spacing="-0.097" fill="#b02414" stroke="#b02414" stroke-width="0.4">en</text>
<text transform="translate(80.15,410.90) scale(1.0198,1)" font-size="19" font-weight="normal" font-style="normal" letter-spacing="0.206" fill="#b02414" stroke="#b02414" stroke-width="0.4">blancos</text>
<text transform="translate(152.26,410.90) scale(1.0351,1)" font-size="19" font-weight="normal" font-style="normal" letter-spacing="0.485" fill="#b02414" stroke="#b02414" stroke-width="0.4">con</text>
<text transform="translate(54.79,433.60) scale(1.0282,1)" font-size="19" font-weight="normal" font-style="normal" letter-spacing="0.262" fill="#b02414" stroke="#b02414" stroke-width="0.4">información</text>
<text transform="translate(55.57,457.00) scale(0.9943,1)" font-size="19" font-weight="normal" font-style="normal" letter-spacing="-0.061" fill="#b02414" stroke="#b02414" stroke-width="0.4">sesgada.</text>
</svg>
</body></html>
